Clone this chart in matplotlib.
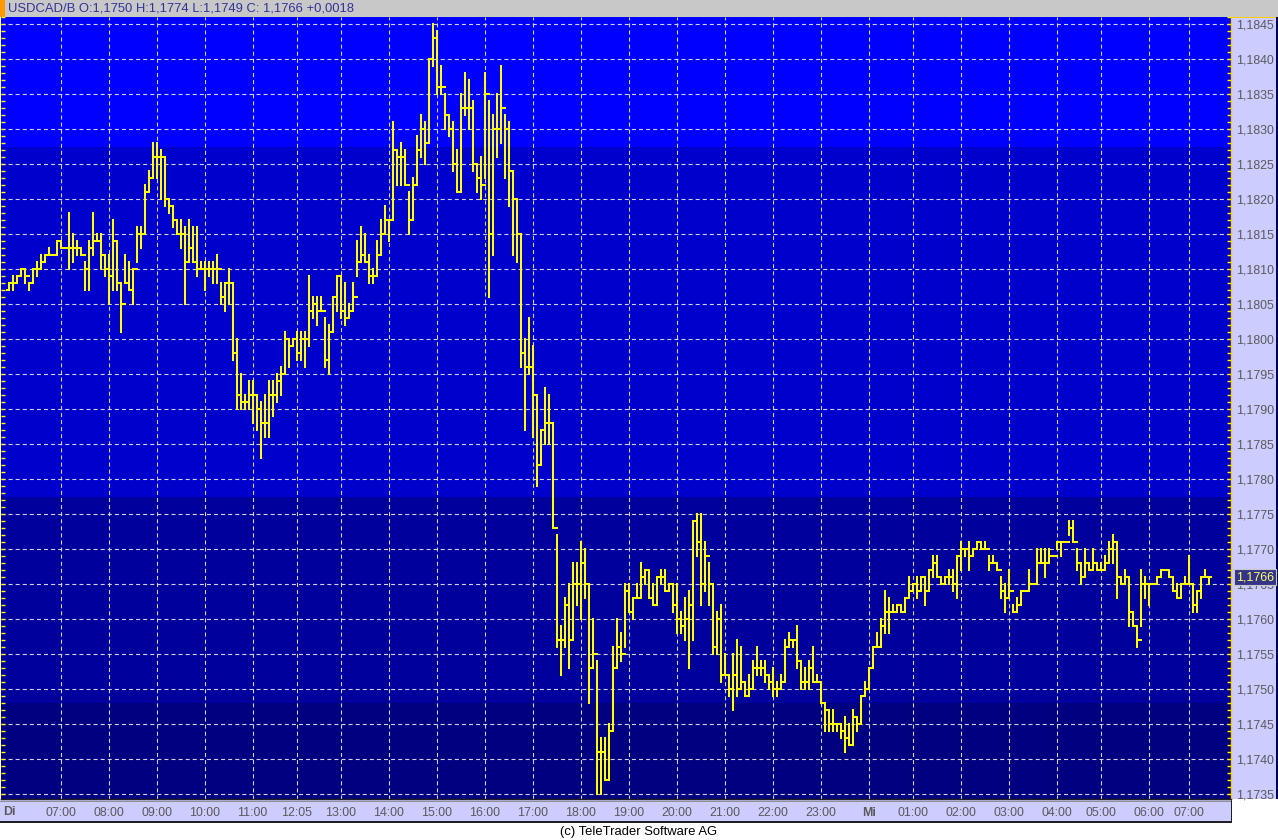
import numpy as np
import matplotlib
matplotlib.use("Agg")
import matplotlib.pyplot as plt
from matplotlib.patches import Rectangle
from matplotlib.ticker import MultipleLocator, FuncFormatter

plt.rcParams['font.family'] = ['Liberation Sans', 'DejaVu Sans']
plt.rcParams['lines.scale_dashes'] = False

# 5-minute bars USDCAD/B (high / low / close)
highs = [
    1.1808, 1.1809, 1.1809, 1.1810, 1.1810, 1.1808, 1.1810, 1.1811, 1.1812, 1.1812,
    1.1813, 1.1812, 1.1814, 1.1814, 1.1813, 1.1818, 1.1815, 1.1814, 1.1813, 1.1811,
    1.1814, 1.1818, 1.1815, 1.1815, 1.1812, 1.1812, 1.1817, 1.1814, 1.1808, 1.1812,
    1.1811, 1.1810, 1.1816, 1.1816, 1.1822, 1.1824, 1.1828, 1.1828, 1.1827, 1.1826,
    1.1820, 1.1819, 1.1817, 1.1817, 1.1816, 1.1817, 1.1816, 1.1816, 1.1811, 1.1811,
    1.1811, 1.1811, 1.1812, 1.1808, 1.1808, 1.1810, 1.1808, 1.1800, 1.1795, 1.1792,
    1.1794, 1.1794, 1.1792, 1.1791, 1.1792, 1.1794, 1.1794, 1.1795, 1.1796, 1.1801,
    1.1800, 1.1800, 1.1801, 1.1801, 1.1801, 1.1809, 1.1806, 1.1806, 1.1806, 1.1803,
    1.1802, 1.1806, 1.1809, 1.1809, 1.1808, 1.1805, 1.1808, 1.1814, 1.1816, 1.1815,
    1.1812, 1.1810, 1.1814, 1.1817, 1.1819, 1.1817, 1.1831, 1.1827, 1.1828, 1.1827,
    1.1821, 1.1823, 1.1829, 1.1832, 1.1831, 1.1840, 1.1845, 1.1844, 1.1839, 1.1835,
    1.1832, 1.1831, 1.1827, 1.1835, 1.1838, 1.1837, 1.1834, 1.1825, 1.1826, 1.1838,
    1.1834, 1.1832, 1.1835, 1.1839, 1.1832, 1.1831, 1.1824, 1.1820, 1.1815, 1.1800,
    1.1803, 1.1799, 1.1792, 1.1787, 1.1793, 1.1792, 1.1788, 1.1772, 1.1759, 1.1763,
    1.1765, 1.1768, 1.1768, 1.1771, 1.1770, 1.1765, 1.1760, 1.1754, 1.1743, 1.1743,
    1.1745, 1.1756, 1.1760, 1.1758, 1.1765, 1.1765, 1.1763, 1.1765, 1.1768, 1.1767,
    1.1767, 1.1765, 1.1766, 1.1767, 1.1767, 1.1765, 1.1765, 1.1765, 1.1761, 1.1763,
    1.1764, 1.1774, 1.1775, 1.1775, 1.1771, 1.1768, 1.1765, 1.1761, 1.1762, 1.1755,
    1.1752, 1.1755, 1.1757, 1.1756, 1.1751, 1.1752, 1.1754, 1.1756, 1.1754, 1.1754,
    1.1752, 1.1753, 1.1751, 1.1752, 1.1757, 1.1758, 1.1757, 1.1759, 1.1754, 1.1753,
    1.1754, 1.1756, 1.1752, 1.1751, 1.1748, 1.1747, 1.1747, 1.1745, 1.1745, 1.1746,
    1.1745, 1.1747, 1.1746, 1.1749, 1.1751, 1.1753, 1.1756, 1.1758, 1.1760, 1.1764,
    1.1763, 1.1762, 1.1762, 1.1762, 1.1763, 1.1766, 1.1765, 1.1766, 1.1766, 1.1766,
    1.1767, 1.1769, 1.1769, 1.1766, 1.1766, 1.1767, 1.1767, 1.1769, 1.1771, 1.1770,
    1.1771, 1.1770, 1.1771, 1.1771, 1.1771, 1.1769, 1.1769, 1.1768, 1.1766, 1.1765,
    1.1767, 1.1762, 1.1763, 1.1764, 1.1764, 1.1767, 1.1765, 1.1770, 1.1770, 1.1770,
    1.1770, 1.1769, 1.1771, 1.1771, 1.1771, 1.1774, 1.1774, 1.1770, 1.1768, 1.1770,
    1.1768, 1.1770, 1.1768, 1.1768, 1.1769, 1.1771, 1.1772, 1.1771, 1.1766, 1.1767,
    1.1766, 1.1761, 1.1759, 1.1767, 1.1766, 1.1765, 1.1765, 1.1766, 1.1767, 1.1767,
    1.1767, 1.1766, 1.1765, 1.1765, 1.1766, 1.1769, 1.1765, 1.1764, 1.1766, 1.1767,
    1.1766,
]
lows = [
    1.1807, 1.1807, 1.1808, 1.1809, 1.1808, 1.1807, 1.1808, 1.1809, 1.1810, 1.1811,
    1.1812, 1.1812, 1.1812, 1.1813, 1.1813, 1.1810, 1.1811, 1.1812, 1.1812, 1.1807,
    1.1807, 1.1812, 1.1814, 1.1810, 1.1809, 1.1805, 1.1807, 1.1807, 1.1801, 1.1808,
    1.1807, 1.1805, 1.1811, 1.1813, 1.1815, 1.1821, 1.1823, 1.1823, 1.1820, 1.1819,
    1.1818, 1.1816, 1.1815, 1.1813, 1.1805, 1.1811, 1.1811, 1.1809, 1.1810, 1.1807,
    1.1809, 1.1808, 1.1808, 1.1805, 1.1804, 1.1805, 1.1797, 1.1790, 1.1790, 1.1790,
    1.1790, 1.1788, 1.1787, 1.1783, 1.1786, 1.1786, 1.1789, 1.1791, 1.1792, 1.1795,
    1.1796, 1.1799, 1.1797, 1.1797, 1.1796, 1.1799, 1.1803, 1.1802, 1.1804, 1.1796,
    1.1795, 1.1801, 1.1804, 1.1803, 1.1802, 1.1803, 1.1804, 1.1809, 1.1811, 1.1811,
    1.1808, 1.1808, 1.1809, 1.1812, 1.1815, 1.1814, 1.1817, 1.1822, 1.1822, 1.1822,
    1.1815, 1.1817, 1.1822, 1.1826, 1.1825, 1.1828, 1.1839, 1.1835, 1.1835, 1.1830,
    1.1829, 1.1824, 1.1821, 1.1821, 1.1832, 1.1830, 1.1824, 1.1821, 1.1820, 1.1823,
    1.1806, 1.1812, 1.1826, 1.1828, 1.1823, 1.1819, 1.1812, 1.1811, 1.1796, 1.1787,
    1.1795, 1.1786, 1.1779, 1.1782, 1.1785, 1.1785, 1.1773, 1.1756, 1.1752, 1.1756,
    1.1753, 1.1757, 1.1762, 1.1760, 1.1763, 1.1748, 1.1753, 1.1735, 1.1735, 1.1737,
    1.1737, 1.1744, 1.1753, 1.1754, 1.1756, 1.1761, 1.1760, 1.1763, 1.1763, 1.1765,
    1.1763, 1.1762, 1.1762, 1.1765, 1.1764, 1.1764, 1.1761, 1.1758, 1.1758, 1.1757,
    1.1753, 1.1757, 1.1769, 1.1762, 1.1764, 1.1762, 1.1755, 1.1755, 1.1751, 1.1752,
    1.1749, 1.1747, 1.1749, 1.1750, 1.1749, 1.1749, 1.1750, 1.1752, 1.1752, 1.1751,
    1.1750, 1.1749, 1.1749, 1.1750, 1.1751, 1.1756, 1.1756, 1.1753, 1.1750, 1.1750,
    1.1750, 1.1751, 1.1751, 1.1748, 1.1744, 1.1744, 1.1744, 1.1744, 1.1743, 1.1741,
    1.1742, 1.1742, 1.1744, 1.1745, 1.1749, 1.1750, 1.1753, 1.1756, 1.1756, 1.1758,
    1.1758, 1.1761, 1.1761, 1.1761, 1.1761, 1.1763, 1.1764, 1.1763, 1.1764, 1.1762,
    1.1764, 1.1766, 1.1766, 1.1765, 1.1765, 1.1765, 1.1764, 1.1763, 1.1767, 1.1769,
    1.1767, 1.1769, 1.1770, 1.1770, 1.1770, 1.1767, 1.1768, 1.1767, 1.1763, 1.1761,
    1.1763, 1.1761, 1.1761, 1.1762, 1.1764, 1.1764, 1.1765, 1.1765, 1.1768, 1.1766,
    1.1768, 1.1769, 1.1770, 1.1769, 1.1771, 1.1772, 1.1771, 1.1767, 1.1765, 1.1766,
    1.1767, 1.1767, 1.1767, 1.1767, 1.1767, 1.1768, 1.1768, 1.1763, 1.1765, 1.1765,
    1.1759, 1.1759, 1.1756, 1.1759, 1.1763, 1.1762, 1.1765, 1.1765, 1.1766, 1.1767,
    1.1766, 1.1764, 1.1763, 1.1763, 1.1765, 1.1765, 1.1761, 1.1761, 1.1763, 1.1766,
    1.1765,
]
closes = [
    1.1808, 1.1808, 1.1809, 1.1810, 1.1809, 1.1808, 1.1810, 1.1810, 1.1811, 1.1812,
    1.1812, 1.1812, 1.1814, 1.1813, 1.1813, 1.1813, 1.1813, 1.1813, 1.1812, 1.1810,
    1.1813, 1.1814, 1.1814, 1.1812, 1.1810, 1.1809, 1.1814, 1.1808, 1.1805, 1.1808,
    1.1807, 1.1810, 1.1815, 1.1815, 1.1821, 1.1823, 1.1826, 1.1826, 1.1826, 1.1820,
    1.1819, 1.1817, 1.1815, 1.1815, 1.1811, 1.1813, 1.1811, 1.1810, 1.1810, 1.1810,
    1.1810, 1.1810, 1.1810, 1.1806, 1.1808, 1.1808, 1.1798, 1.1792, 1.1791, 1.1791,
    1.1792, 1.1792, 1.1790, 1.1788, 1.1788, 1.1792, 1.1792, 1.1794, 1.1795, 1.1800,
    1.1799, 1.1800, 1.1798, 1.1800, 1.1800, 1.1804, 1.1805, 1.1804, 1.1804, 1.1797,
    1.1801, 1.1806, 1.1809, 1.1804, 1.1803, 1.1804, 1.1806, 1.1811, 1.1812, 1.1811,
    1.1809, 1.1809, 1.1812, 1.1815, 1.1817, 1.1817, 1.1827, 1.1826, 1.1826, 1.1822,
    1.1817, 1.1822, 1.1827, 1.1830, 1.1828, 1.1840, 1.1843, 1.1836, 1.1836, 1.1832,
    1.1830, 1.1825, 1.1821, 1.1833, 1.1833, 1.1833, 1.1825, 1.1823, 1.1822, 1.1835,
    1.1815, 1.1830, 1.1830, 1.1833, 1.1830, 1.1824, 1.1820, 1.1815, 1.1798, 1.1796,
    1.1796, 1.1792, 1.1782, 1.1787, 1.1788, 1.1788, 1.1773, 1.1757, 1.1757, 1.1762,
    1.1757, 1.1765, 1.1765, 1.1768, 1.1765, 1.1753, 1.1755, 1.1741, 1.1741, 1.1737,
    1.1744, 1.1753, 1.1756, 1.1755, 1.1764, 1.1761, 1.1763, 1.1763, 1.1766, 1.1767,
    1.1763, 1.1762, 1.1766, 1.1766, 1.1764, 1.1765, 1.1762, 1.1760, 1.1759, 1.1760,
    1.1762, 1.1774, 1.1771, 1.1765, 1.1769, 1.1765, 1.1756, 1.1760, 1.1752, 1.1752,
    1.1750, 1.1752, 1.1750, 1.1751, 1.1749, 1.1750, 1.1753, 1.1753, 1.1753, 1.1752,
    1.1751, 1.1750, 1.1750, 1.1751, 1.1756, 1.1757, 1.1757, 1.1754, 1.1751, 1.1751,
    1.1753, 1.1751, 1.1751, 1.1748, 1.1747, 1.1745, 1.1745, 1.1745, 1.1744, 1.1743,
    1.1742, 1.1746, 1.1745, 1.1749, 1.1750, 1.1753, 1.1756, 1.1756, 1.1759, 1.1761,
    1.1761, 1.1761, 1.1762, 1.1761, 1.1763, 1.1764, 1.1765, 1.1764, 1.1766, 1.1764,
    1.1767, 1.1768, 1.1766, 1.1765, 1.1766, 1.1766, 1.1765, 1.1769, 1.1770, 1.1770,
    1.1769, 1.1770, 1.1771, 1.1770, 1.1770, 1.1768, 1.1768, 1.1767, 1.1764, 1.1763,
    1.1764, 1.1761, 1.1762, 1.1764, 1.1764, 1.1765, 1.1765, 1.1768, 1.1768, 1.1768,
    1.1769, 1.1769, 1.1771, 1.1771, 1.1771, 1.1773, 1.1771, 1.1768, 1.1766, 1.1768,
    1.1767, 1.1768, 1.1767, 1.1767, 1.1768, 1.1770, 1.1771, 1.1766, 1.1765, 1.1766,
    1.1761, 1.1759, 1.1757, 1.1765, 1.1765, 1.1765, 1.1765, 1.1766, 1.1767, 1.1767,
    1.1766, 1.1764, 1.1763, 1.1765, 1.1765, 1.1765, 1.1762, 1.1764, 1.1766, 1.1766,
    1.1766,
]
first_open = 1.1807

# time axis: bar index of each labelled gridline
hour_pos = [13, 25, 37, 49, 61, 72, 83, 95, 107, 119, 131, 143, 155,
            167, 179, 191, 203, 215, 226, 238, 250, 262, 273, 285, 295]
hour_labels = ["07:00", "08:00", "09:00", "10:00", "11:00", "12:05", "13:00",
               "14:00", "15:00", "16:00", "17:00", "18:00", "19:00", "20:00",
               "21:00", "22:00", "23:00", "Mi", "01:00", "02:00", "03:00",
               "04:00", "05:00", "06:00", "07:00"]

# background shading levels
band_edges = [1.1748, 1.17775, 1.18274]
band_colors = ["#000080", "#00009C", "#0000CC", "#0000FF"]

header = "USDCAD/B O:1,1750 H:1,1774 L:1,1749 C: 1,1766 +0,0018"
last_price = closes[-1]

W, H = 1278, 840
fig = plt.figure(figsize=(W / 100, H / 100), dpi=100)
fig.patch.set_facecolor("white")


def box(x0, y0, x1, y1, **kw):
    # rectangle in pixel coords (origin top-left)
    r = Rectangle((x0 / W, 1 - y1 / H), (x1 - x0) / W, (y1 - y0) / H,
                  transform=fig.transFigure, zorder=-1, **kw)
    fig.add_artist(r)


# plot area
PL, PR, PT, PB = 1, 1231, 17, 799
ax = fig.add_axes([PL / W, 1 - PB / H, (PR - PL) / W, (PB - PT) / H])
ylo, yhi = 1.17343, 1.18460
ax.set_ylim(ylo, yhi)
ax.set_xlim(-1.9, 305.6)

edges = [ylo] + band_edges + [yhi]
for i, c in enumerate(band_colors):
    ax.axhspan(edges[i], edges[i + 1], color=c, lw=0, zorder=0)

ax.set_axisbelow(True)
ax.grid(True, which="major", color="#D4D4E4", lw=0.8, linestyle=(0, (2.9, 2.2)))

idx = np.arange(len(highs))
opens = np.r_[first_open, closes[:-1]]
yellow = "#FFFF00"
lc = ax.vlines(idx, lows, highs, colors=yellow, lw=1.45, zorder=3)
lo = ax.hlines(opens, idx - 0.5, idx, colors=yellow, lw=1.45, zorder=3)
lcl = ax.hlines(closes, idx, idx + 0.5, colors=yellow, lw=1.45, zorder=3)
for c in (lc, lo, lcl):
    c.set_capstyle("projecting")

# y axis on the right, comma decimals
ax.yaxis.set_major_locator(MultipleLocator(0.0005))
ax.yaxis.set_minor_locator(MultipleLocator(0.0001))
ax.yaxis.set_major_formatter(FuncFormatter(lambda v, p: f"{v:.4f}".replace(".", ",")))
ax.tick_params(axis="y", which="both", direction="in", color=yellow, length=3,
               width=1, left=True, right=True, labelleft=False, labelright=True,
               labelcolor="#5A5A5A", labelsize=8.9, pad=3.5)

ax.set_xticks(hour_pos, hour_labels)
ax.tick_params(axis="x", length=0, pad=6, labelsize=8.9, labelcolor="#5A5A5A")
for lbl in ax.get_xticklabels():
    if lbl.get_text() == "Mi":
        lbl.set_fontweight("bold")

for s in ("top", "left"):
    ax.spines[s].set_visible(False)
ax.spines["right"].set_color("#FFCC00")
ax.spines["right"].set_linewidth(1)
ax.spines["bottom"].set_color("#202020")
ax.spines["bottom"].set_linewidth(1)

# header bar
box(0, 0, W, PT, fc="#C8C8C8", lw=0)
box(0, 0, 5, PT, fc="#FF9900", lw=0)
fig.text(8 / W, 1 - 8.5 / H, header, color="#333399", fontsize=9.4,
         va="center", ha="left")

# right price panel
box(PR, PT, 1276, PB, fc="#CCCCFF", lw=0)
box(1276, PT, W, PB, fc="#000060", lw=0)
box(PR, PT, 1276, PT + 1, fc="#FFCC00", lw=0)

# bottom time panel
box(0, PB, PR, 822, fc="#CCCCFF", lw=0)
box(0, PB + 2, PR, PB + 3, fc="#909090", lw=0)
box(0, 821, PR + 1, 823, fc="#202020", lw=0)
box(PR, PB, PR + 1, 823, fc="#202020", lw=0)
fig.text(3 / W, 1 - 812 / H, "Di", color="#5A5A5A", fontsize=8.9,
         fontweight="bold", va="center", ha="left")

# last price tag (covers the 1,1765 label as in the original)
fig.canvas.draw()
ypix = ax.transData.transform((0, last_price))[1]
fig.text(1236 / W, ypix / H, f"{last_price:.4f}".replace(".", ","),
         color="#FFFF66", fontsize=8.9, va="center", ha="left", zorder=5,
         bbox=dict(boxstyle="square,pad=0.18", fc="#333388", ec="#C8C8C8", lw=0.8))

fig.text(0.5, 1 - 832 / H, "(c) TeleTrader Software AG", color="black",
         fontsize=9.4, ha="center", va="center")

fig.savefig("out.png", dpi=100)
plt.close(fig)
